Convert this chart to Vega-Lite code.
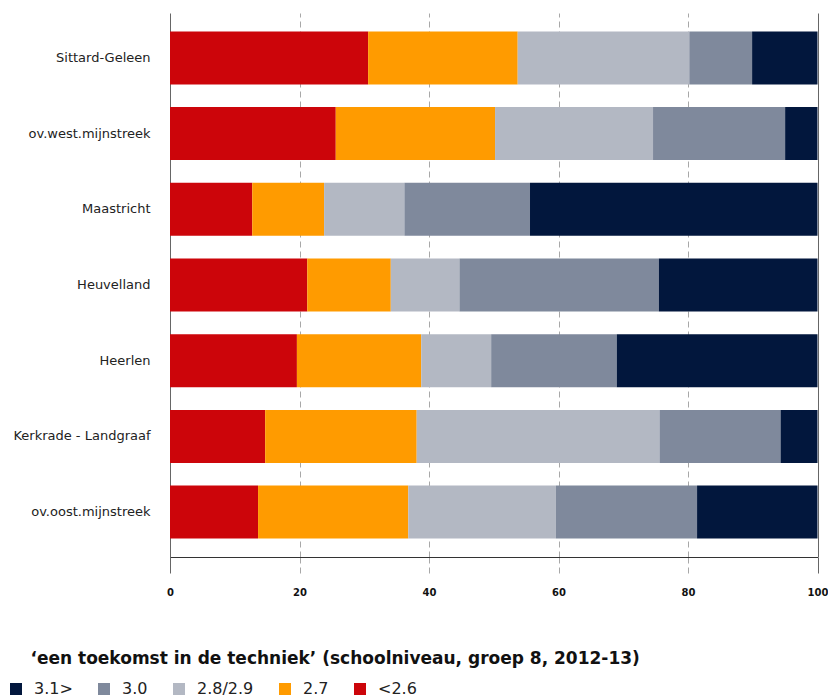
{
  "$schema": "https://vega.github.io/schema/vega-lite/v6.json",
  "autosize": "none",
  "width": 647.5,
  "height": 544,
  "padding": {"left": 170, "top": 13, "right": 10.5, "bottom": 143},
  "background": "white",
  "config": {
    "view": {"stroke": null},
    "font": "DejaVu Sans"
  },
  "data": {
    "values": [
      {"region": "Sittard-Geleen", "cat": "<2.6", "ord": 1, "value": 30.6},
      {"region": "Sittard-Geleen", "cat": "2.7", "ord": 2, "value": 23.1},
      {"region": "Sittard-Geleen", "cat": "2.8/2.9", "ord": 3, "value": 26.5},
      {"region": "Sittard-Geleen", "cat": "3.0", "ord": 4, "value": 9.7},
      {"region": "Sittard-Geleen", "cat": "3.1>", "ord": 5, "value": 10.1},
      {"region": "ov.west.mijnstreek", "cat": "<2.6", "ord": 1, "value": 25.6},
      {"region": "ov.west.mijnstreek", "cat": "2.7", "ord": 2, "value": 24.6},
      {"region": "ov.west.mijnstreek", "cat": "2.8/2.9", "ord": 3, "value": 24.4},
      {"region": "ov.west.mijnstreek", "cat": "3.0", "ord": 4, "value": 20.4},
      {"region": "ov.west.mijnstreek", "cat": "3.1>", "ord": 5, "value": 5.0},
      {"region": "Maastricht", "cat": "<2.6", "ord": 1, "value": 12.7},
      {"region": "Maastricht", "cat": "2.7", "ord": 2, "value": 11.1},
      {"region": "Maastricht", "cat": "2.8/2.9", "ord": 3, "value": 12.4},
      {"region": "Maastricht", "cat": "3.0", "ord": 4, "value": 19.4},
      {"region": "Maastricht", "cat": "3.1>", "ord": 5, "value": 44.4},
      {"region": "Heuvelland", "cat": "<2.6", "ord": 1, "value": 21.2},
      {"region": "Heuvelland", "cat": "2.7", "ord": 2, "value": 12.9},
      {"region": "Heuvelland", "cat": "2.8/2.9", "ord": 3, "value": 10.6},
      {"region": "Heuvelland", "cat": "3.0", "ord": 4, "value": 30.8},
      {"region": "Heuvelland", "cat": "3.1>", "ord": 5, "value": 24.5},
      {"region": "Heerlen", "cat": "<2.6", "ord": 1, "value": 19.6},
      {"region": "Heerlen", "cat": "2.7", "ord": 2, "value": 19.2},
      {"region": "Heerlen", "cat": "2.8/2.9", "ord": 3, "value": 10.8},
      {"region": "Heerlen", "cat": "3.0", "ord": 4, "value": 19.4},
      {"region": "Heerlen", "cat": "3.1>", "ord": 5, "value": 31.0},
      {"region": "Kerkrade - Landgraaf", "cat": "<2.6", "ord": 1, "value": 14.7},
      {"region": "Kerkrade - Landgraaf", "cat": "2.7", "ord": 2, "value": 23.4},
      {"region": "Kerkrade - Landgraaf", "cat": "2.8/2.9", "ord": 3, "value": 37.5},
      {"region": "Kerkrade - Landgraaf", "cat": "3.0", "ord": 4, "value": 18.7},
      {"region": "Kerkrade - Landgraaf", "cat": "3.1>", "ord": 5, "value": 5.7},
      {"region": "ov.oost.mijnstreek", "cat": "<2.6", "ord": 1, "value": 13.6},
      {"region": "ov.oost.mijnstreek", "cat": "2.7", "ord": 2, "value": 23.2},
      {"region": "ov.oost.mijnstreek", "cat": "2.8/2.9", "ord": 3, "value": 22.8},
      {"region": "ov.oost.mijnstreek", "cat": "3.0", "ord": 4, "value": 21.8},
      {"region": "ov.oost.mijnstreek", "cat": "3.1>", "ord": 5, "value": 18.6}
    ]
  },
  "mark": {"type": "bar"},
  "encoding": {
    "y": {
      "field": "region",
      "type": "nominal",
      "sort": ["Sittard-Geleen", "ov.west.mijnstreek", "Maastricht", "Heuvelland", "Heerlen", "Kerkrade - Landgraaf", "ov.oost.mijnstreek"],
      "scale": {"paddingInner": 0.3, "paddingOuter": 0.243},
      "axis": {
        "title": null,
        "domain": false,
        "ticks": false,
        "tickSize": 0,
        "labelPadding": 20,
        "labelFont": "DejaVu Sans",
        "labelFontSize": 13,
        "labelColor": "#222222"
      }
    },
    "x": {
      "field": "value",
      "type": "quantitative",
      "stack": "zero",
      "scale": {"domain": [0, 100], "nice": false},
      "axis": {
        "title": "‘een toekomst in de techniek’ (schoolniveau, groep 8, 2012-13)",
        "titleX": -140,
        "titleY": 106,
        "titleAlign": "left",
        "titleAnchor": "start",
        "titleBaseline": "alphabetic",
        "titleFont": "DejaVu Sans",
        "titleFontSize": 17,
        "titleFontWeight": "bold",
        "titleColor": "#111111",
        "values": [0, 20, 40, 60, 80, 100],
        "domain": true,
        "domainColor": "#333333",
        "domainWidth": 1,
        "grid": true,
        "gridColor": {"condition": {"test": "datum.value === 0 || datum.value === 100", "value": "#666666"}, "value": "#a8a8a8"},
        "gridDash": {"condition": {"test": "datum.value === 0 || datum.value === 100", "value": []}, "value": [6, 4]},
        "gridWidth": 1,
        "ticks": true,
        "tickSize": 16,
        "tickColor": {"condition": {"test": "datum.value === 0 || datum.value === 100", "value": "#666666"}, "value": "#a8a8a8"},
        "tickDash": {"condition": {"test": "datum.value === 0 || datum.value === 100", "value": []}, "value": [6, 4]},
        "labelPadding": 14,
        "labelFont": "DejaVu Sans",
        "labelFontSize": 10,
        "labelFontWeight": "bold",
        "labelColor": "#111111",
        "labelFlush": false
      }
    },
    "color": {
      "field": "cat",
      "type": "nominal",
      "scale": {
        "domain": ["3.1>", "3.0", "2.8/2.9", "2.7", "<2.6"],
        "range": ["#02173D", "#7F899C", "#B3B8C3", "#FF9B00", "#CC050A"]
      },
      "legend": {
        "title": null,
        "orient": "none",
        "direction": "horizontal",
        "legendX": -162,
        "legendY": 668,
        "padding": 0,
        "symbolType": "square",
        "symbolSize": 144,
        "symbolStrokeWidth": 0,
        "labelFont": "DejaVu Sans",
        "labelFontSize": 16,
        "labelColor": "#222222",
        "labelOffset": 10,
        "columnPadding": 23
      }
    },
    "order": {"field": "ord", "type": "quantitative"}
  }
}
